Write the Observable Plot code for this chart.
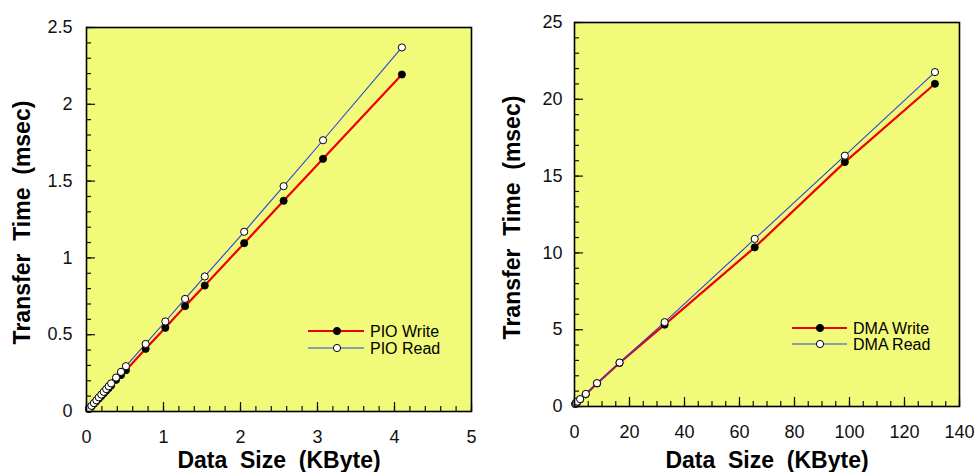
<!DOCTYPE html>
<html>
<head>
<meta charset="utf-8">
<script src="https://cdn.jsdelivr.net/npm/d3@7"></script>
<script src="https://cdn.jsdelivr.net/npm/@observablehq/plot@0.6"></script>
<style>
  html, body { margin: 0; padding: 0; background: #fff; }
  #wrap { display: flex; width: 979px; height: 472px; }
  svg { font-family: "Liberation Sans", Arial, sans-serif; }
</style>
</head>
<body>
<div id="wrap"></div>
<script>
// ---- Data: PIO (left panel) ----
const pioSize  = [0.032, 0.064, 0.096, 0.128, 0.16, 0.192, 0.224, 0.256, 0.288, 0.32,
                  0.384, 0.448, 0.512, 0.768, 1.024, 1.28, 1.536, 2.048, 2.56, 3.072, 4.096];
const pioWrite = [0.016, 0.033, 0.050, 0.067, 0.084, 0.101, 0.118, 0.135, 0.152, 0.170,
                  0.206, 0.237, 0.269, 0.408, 0.545, 0.686, 0.820, 1.096, 1.372, 1.645, 2.194];
const pioRead  = [0.019, 0.037, 0.055, 0.073, 0.092, 0.110, 0.128, 0.146, 0.164, 0.183,
                  0.221, 0.258, 0.295, 0.440, 0.586, 0.733, 0.879, 1.170, 1.467, 1.766, 2.370];

// ---- Data: DMA (right panel) ----
const dmaSize  = [0.256, 0.512, 1.024, 2.048, 4.096, 8.192, 16.384, 32.768, 65.536, 98.304, 131.072];
const dmaWrite = [0.16, 0.22, 0.30, 0.46, 0.79, 1.50, 2.84, 5.33, 10.36, 15.91, 21.01];
const dmaRead  = [0.17, 0.23, 0.32, 0.48, 0.82, 1.52, 2.86, 5.49, 10.91, 16.33, 21.77];

// ---- Axis ticks ----
const pioXMajor = [0, 1, 2, 3, 4, 5];
const pioXMinor = d3.range(0, 5.0001, 0.2);
const pioYMajor = [0, 0.5, 1, 1.5, 2, 2.5];
const pioYMinor = d3.range(0, 2.5001, 0.1);
const dmaXMajor = [0, 20, 40, 60, 80, 100, 120, 140];
const dmaXMinor = d3.range(0, 140.001, 5);
const dmaYMajor = [0, 5, 10, 15, 20, 25];
const dmaYMinor = d3.range(0, 25.001, 1);

const xTitle = "Data\u00a0\u00a0Size\u00a0\u00a0(KByte)";
const yTitle = "Transfer\u00a0\u00a0Time\u00a0\u00a0(msec)";

const YELLOW = "#f2fa7a";
const RED = "#ee0000";
const BLUE = "#2a40e0";

function rows(xs, ys) { return xs.map((x, i) => ({x, y: ys[i]})); }

function panel(cfg) {
  const w = rows(cfg.size, cfg.write);
  const r = rows(cfg.size, cfg.read);
  const fmt = cfg.fmt;
  const plot = Plot.plot({
    width: cfg.width, height: 472,
    marginLeft: cfg.ml, marginRight: cfg.mr, marginTop: cfg.mt, marginBottom: cfg.mb,
    style: {fontFamily: "Liberation Sans, Arial, sans-serif", fontSize: "18px", color: "#111", background: "transparent"},
    x: {domain: cfg.xDomain},
    y: {domain: cfg.yDomain},
    marks: [
      Plot.frame({fill: YELLOW}),
      // minor and major ticks (pointing inside)
      Plot.axisX({ticks: cfg.xMinor, tickSize: 5, dy: -5, tickFormat: () => "", label: null, strokeWidth: 1.2}),
      Plot.axisX({ticks: cfg.xMajor, tickSize: 9, dy: -9, tickFormat: () => "", label: null, strokeWidth: 1.2}),
      Plot.axisY({ticks: cfg.yMinor, tickSize: 5, dx: 5, tickFormat: () => "", label: null, strokeWidth: 1.2}),
      Plot.axisY({ticks: cfg.yMajor, tickSize: 9, dx: 9, tickFormat: () => "", label: null, strokeWidth: 1.2}),
      // tick labels
      Plot.axisX({ticks: cfg.xMajor, tickSize: 0, tickPadding: 19, tickFormat: fmt, label: null, fontSize: 18, letterSpacing: 1}),
      Plot.axisY({ticks: cfg.yMajor, tickSize: 0, tickPadding: cfg.yPad, tickFormat: fmt, label: null, fontSize: 18, letterSpacing: 1}),
      // series
      Plot.line(w, {x: "x", y: "y", stroke: RED, strokeWidth: 2.2}),
      Plot.line(r, {x: "x", y: "y", stroke: BLUE, strokeWidth: 1.1}),
      Plot.dot(w, {x: "x", y: "y", r: 3.6, fill: "#000", stroke: "#000", strokeWidth: 0.8}),
      Plot.dot(r, {x: "x", y: "y", r: 3.6, fill: "#fff", stroke: "#000", strokeWidth: 1}),
      Plot.frame({stroke: "#000", strokeWidth: 1.6}),
      // axis titles
      Plot.text([xTitle], {frameAnchor: "bottom", textAnchor: "middle", dy: cfg.xTitleDy, text: d => d, fontSize: 23, fontWeight: "bold", fill: "#000"}),
      Plot.text([yTitle], {frameAnchor: "left", textAnchor: "middle", dx: cfg.yTitleDx, dy: 3, rotate: -90, text: d => d, fontSize: 23, fontWeight: "bold", fill: "#000"})
    ]
  });
  // legend
  const svg = d3.select(plot);
  const g = svg.append("g").attr("font-family", "Liberation Sans, Arial, sans-serif").attr("font-size", 16).attr("text-anchor", "start");
  const L = cfg.legend;
  [[cfg.names[0], RED, 2.2, "#000", L.y1], [cfg.names[1], BLUE, 1.2, "#fff", L.y2]].forEach(([name, col, sw, fill, y]) => {
    g.append("line").attr("x1", L.x1).attr("x2", L.x2).attr("y1", y).attr("y2", y).attr("stroke", col).attr("stroke-width", sw);
    g.append("circle").attr("cx", L.cx).attr("cy", y).attr("r", 3.6).attr("fill", fill).attr("stroke", "#000").attr("stroke-width", 1);
    g.append("text").attr("x", L.tx).attr("y", y).attr("dy", "0.36em").attr("fill", "#000").attr("text-anchor", "start").text(name);
  });
  return plot;
}

const wrap = document.getElementById("wrap");
wrap.appendChild(panel({
  width: 490, ml: 86, mr: 19, mt: 27, mb: 61,
  xDomain: [0, 5], yDomain: [0, 2.5],
  size: pioSize, write: pioWrite, read: pioRead,
  xMajor: pioXMajor, xMinor: pioXMinor, yMajor: pioYMajor, yMinor: pioYMinor,
  fmt: d => String(d), yPad: 14, xTitleDy: 56, yTitleDx: -64,
  names: ["PIO Write", "PIO Read"],
  legend: {x1: 308, x2: 364, cx: 337, tx: 370, y1: 331, y2: 348}
}));
wrap.appendChild(panel({
  width: 489, ml: 84, mr: 20, mt: 22, mb: 66,
  xDomain: [0, 140], yDomain: [0, 25],
  size: dmaSize, write: dmaWrite, read: dmaRead,
  xMajor: dmaXMajor, xMinor: dmaXMinor, yMajor: dmaYMajor, yMinor: dmaYMinor,
  fmt: d => String(d), yPad: 12, xTitleDy: 61, yTitleDx: -62,
  names: ["DMA Write", "DMA Read"],
  legend: {x1: 302, x2: 357, cx: 330, tx: 363, y1: 328, y2: 344}
}));
</script>
</body>
</html>
